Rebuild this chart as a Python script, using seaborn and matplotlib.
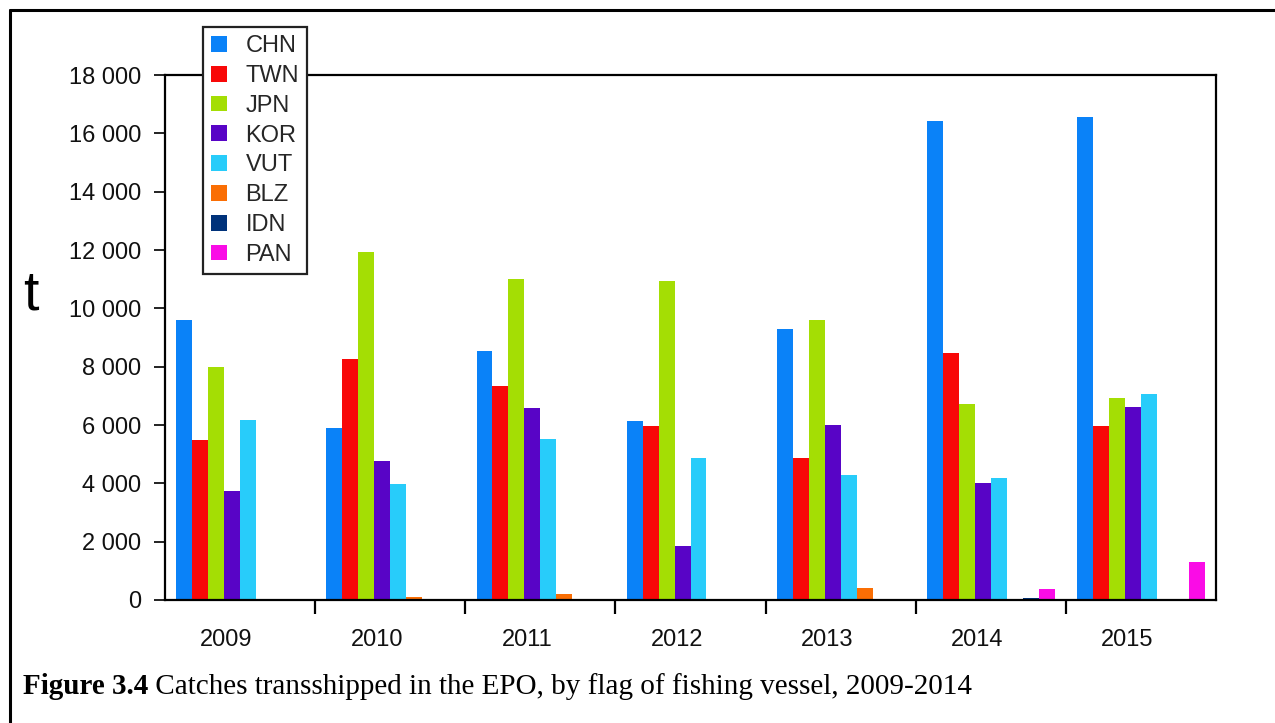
"""Catches transshipped in the EPO by flag of fishing vessel."""

import numpy as np
import pandas as pd
import matplotlib
matplotlib.use("Agg")
import matplotlib.pyplot as plt
from matplotlib.lines import Line2D
from matplotlib.ticker import FuncFormatter, FixedLocator
import seaborn as sns


YEARS = ["2009", "2010", "2011", "2012", "2013", "2014", "2015"]
FLAGS = ["CHN", "TWN", "JPN", "KOR", "VUT", "BLZ", "IDN", "PAN"]

CHN = [9600, 5900, 8540, 6140, 9290, 16420, 16560]
TWN = [5490, 8260, 7340, 5970, 4870, 8470, 5970]
JPN = [7990, 11930, 11000, 10940, 9600, 6720, 6930]
KOR = [3740, 4770, 6580, 1850, 6000, 4010, 6620]
VUT = [6170, 3980, 5520, 4870, 4290, 4180, 7060]
BLZ = [0, 100, 200, 0, 400, 40, 0]
IDN = [0, 0, 0, 0, 0, 60, 0]
PAN = [0, 0, 0, 0, 0, 380, 1300]

COLORS = ["#0A82F8", "#F80808", "#A4DE04", "#5804C6",
          "#28CCFA", "#FA6E04", "#00327A", "#FA0CE6"]

Y_TICKS = [0, 2000, 4000, 6000, 8000, 10000, 12000, 14000, 16000, 18000]

CAPTION_BOLD = "Figure 3.4"
CAPTION_TEXT = " Catches transshipped in the EPO, by flag of fishing vessel, 2009-2014"


series = [CHN, TWN, JPN, KOR, VUT, BLZ, IDN, PAN]
df = pd.DataFrame({
    "year": np.tile(YEARS, len(FLAGS)),
    "flag": np.repeat(FLAGS, len(YEARS)),
    "catch": np.concatenate(series),
})

sns.set_theme(style="white")
plt.rcParams["font.family"] = ["Liberation Sans", "DejaVu Sans"]

fig = plt.figure(figsize=(12.75, 7.23), dpi=100)
ax = fig.add_axes([165 / 1275, 1 - 600 / 723, (1216 - 165) / 1275, (600 - 75) / 723])

sns.barplot(data=df, x="year", y="catch", hue="flag", order=YEARS, hue_order=FLAGS,
            palette=COLORS, saturation=1, width=0.85, gap=0, linewidth=0, ax=ax)

ax.set_xlim(-0.5, len(YEARS) - 0.5)
ax.set_ylim(0, 18000)
ax.set_yticks(Y_TICKS)
ax.yaxis.set_major_formatter(FuncFormatter(lambda v, p: f"{int(v):,}".replace(",", " ")))
# year labels sit a little left of the group centres in the original
ax.set_xticks(np.arange(len(YEARS)) - 0.09, YEARS)
ax.set_xlabel("")
ax.set_ylabel("")

for side in ["left", "bottom", "top", "right"]:
    ax.spines[side].set_visible(True)
    ax.spines[side].set_color("black")
    ax.spines[side].set_linewidth(1.6)

ax.tick_params(axis="y", which="major", left=True, length=8, width=1.4,
               color="#222222", labelsize=17, pad=9, labelcolor="#111111")
ax.tick_params(axis="x", which="major", bottom=True, length=0, labelsize=17,
               pad=21, labelcolor="#111111")
ax.xaxis.set_minor_locator(FixedLocator(np.arange(0.5, len(YEARS) - 1, 1.0)))
ax.tick_params(axis="x", which="minor", bottom=True, length=10, width=1.6, color="black")

handles, labels = ax.get_legend_handles_labels()
leg = ax.legend(handles, labels, loc="upper left",
                bbox_to_anchor=(203 / 1275, 1 - 27 / 723), bbox_transform=fig.transFigure,
                borderaxespad=0, frameon=True, fancybox=False, framealpha=1,
                edgecolor="#222222", fontsize=17, handlelength=0.65, handleheight=0.65,
                handletextpad=0.8, labelspacing=0.33, borderpad=0.35)
leg.get_frame().set_linewidth(1.6)

fig.text(31 / 1275, 1 - 295 / 723, "t", fontsize=40, ha="center", va="center",
         color="black")

# caption, bold part then regular part
renderer = fig.canvas.get_renderer()
cap_y = 1 - 687 / 723
t1 = fig.text(23 / 1275, cap_y, CAPTION_BOLD, fontsize=21, fontweight="bold",
              family="Liberation Serif", va="center", ha="left", color="black")
bb = t1.get_window_extent(renderer=renderer)
fig.text(bb.x1 / fig.bbox.width, cap_y, CAPTION_TEXT, fontsize=21,
         family="Liberation Serif", va="center", ha="left", color="black")

# page frame lines (top and left)
fig.add_artist(Line2D([9.5 / 1275, 1.0], [1 - 9.5 / 723] * 2,
                      transform=fig.transFigure, color="black", linewidth=2.2))
fig.add_artist(Line2D([9.5 / 1275] * 2, [0.0, 1 - 9.5 / 723],
                      transform=fig.transFigure, color="black", linewidth=2.2))

fig.savefig("out.png", dpi=100, facecolor="white")
